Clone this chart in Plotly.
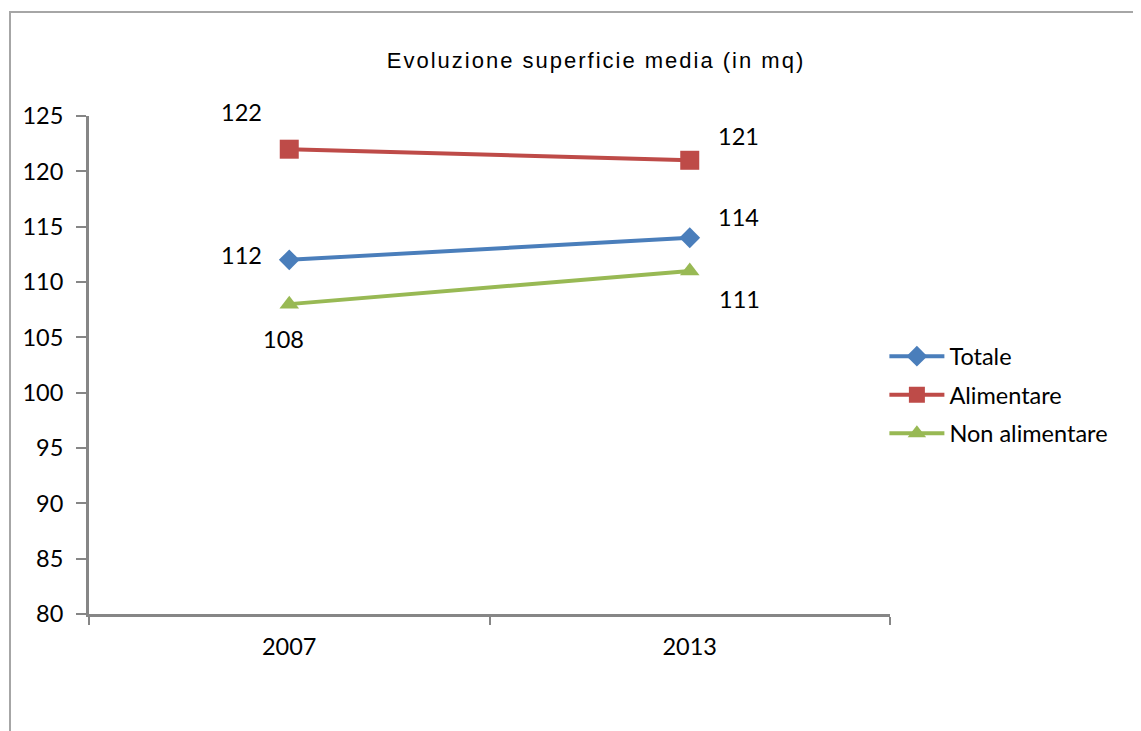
import plotly.graph_objects as go

years = ["2007", "2013"]
totale = [112, 114]
alimentare = [122, 121]
non_alimentare = [108, 111]
y_ticks = [80, 85, 90, 95, 100, 105, 110, 115, 120, 125]

tick_font = dict(family="Lato, Carlito, sans-serif", size=23.5, color="#000000")

series = [
    ("Totale", totale, "#4A7EBB", "diamond", 16, [(-48, 5), (49, 21)]),
    ("Alimentare", alimentare, "#BE4B48", "square", 19, [(-48, 37), (49, 24)]),
    ("Non alimentare", non_alimentare, "#98B954", "triangle-up", 17, [(-6, -35), (50, -28)]),
]

fig = go.Figure()
annotations = []
for name, vals, color, sym, msize, offsets in series:
    fig.add_trace(go.Scatter(
        x=years, y=vals, name=name, mode="lines+markers", legendgroup=name,
        line=dict(color=color, width=4),
        marker=dict(symbol=sym, size=msize, color=color),
    ))
    for i, (yv, (dx, dy)) in enumerate(zip(vals, offsets)):
        annotations.append(dict(x=i, y=yv, xref="x", yref="y", text=str(yv),
                                showarrow=False, xshift=dx, yshift=dy, font=tick_font,
                                xanchor="center", yanchor="middle"))

fig.update_layout(
    width=1141, height=731,
    margin=dict(l=81, r=259, t=108, b=125),
    paper_bgcolor="white", plot_bgcolor="white",
    title=dict(text='<span style="letter-spacing:2px">Evoluzione superficie media (in mq)</span>',
               x=588 / 1141, xanchor="center",
               y=1 - 52 / 731, yanchor="middle",
               font=dict(family="Liberation Sans, Arial, sans-serif", size=22, color="#000000")),
    showlegend=True,
    legend=dict(x=0.993, xanchor="left", y=0.44, yanchor="middle",
                font=tick_font, itemwidth=55, tracegroupgap=5,
                bgcolor="rgba(0,0,0,0)"),
    annotations=annotations,
    xaxis=dict(type="category", tickson="boundaries", ticks="outside", ticklen=8,
               tickcolor="#868686", tickwidth=2, showline=True, linecolor="#868686",
               linewidth=3, showgrid=False, tickfont=tick_font, range=[-0.5, 1.5],
               ticklabelstandoff=10, fixedrange=True),
    yaxis=dict(range=[80, 125], tickvals=y_ticks, ticks="outside", ticklen=10,
               tickcolor="#868686", tickwidth=2, showline=True, linecolor="#868686",
               linewidth=3, showgrid=False, zeroline=False, tickfont=tick_font,
               ticklabelstandoff=8, fixedrange=True),
    shapes=[dict(type="rect", xref="paper", yref="paper",
                 x0=(10 - 89) / 801, x1=1.5, y0=-0.5, y1=(614 - 12) / 498,
                 line=dict(color="#A6A6A6", width=2), fillcolor="rgba(0,0,0,0)",
                 layer="below")],
)

fig.write_html("out.html")
